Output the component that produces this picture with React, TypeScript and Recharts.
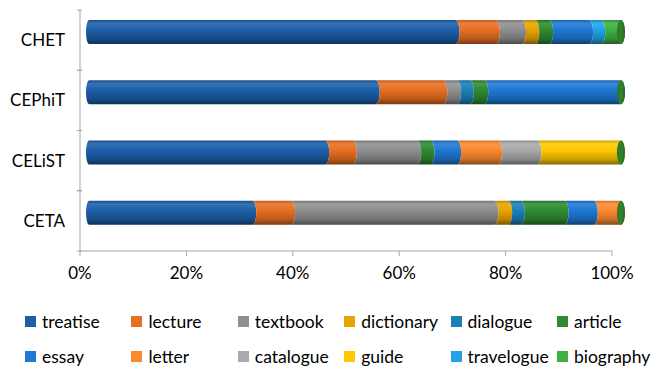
import React from "react";
import { Bar, BarChart, XAxis, YAxis } from "recharts";

// Text-type shares (percent) per corpus
const corpora = ["CHET", "CEPhiT", "CELiST", "CETA"];
const textTypes = [
  "treatise", "lecture", "textbook", "dictionary", "dialogue", "article",
  "essay", "letter", "catalogue", "guide", "travelogue", "biography",
];
const treatise = [68.9, 53.9, 44.4, 30.7];
const lecture = [7.6, 12.7, 5.2, 7.3];
const textbook = [4.9, 2.6, 12.1, 38.2];
const dictionary = [2.5, 0, 0, 2.6];
const dialogue = [0, 2.4, 0, 2.4];
const article = [2.6, 2.7, 2.5, 8.2];
const essay = [7.5, 25.7, 5.0, 5.5];
const letter = [0, 0, 7.7, 5.1];
const catalogue = [0, 0, 7.4, 0];
const guide = [0, 0, 15.7, 0];
const travelogue = [2.3, 0, 0, 0];
const biography = [3.7, 0, 0, 0];
const xTicks = [0, 0.2, 0.4, 0.6, 0.8, 1];

const seriesValues = [
  treatise, lecture, textbook, dictionary, dialogue, article,
  essay, letter, catalogue, guide, travelogue, biography,
];

const colors = [
  "#1c5fa9", "#e86f22", "#8f8f8f", "#e8a400", "#1c80b8", "#2e8b30",
  "#1f78d4", "#fb8a2e", "#aaaaaa", "#ffc800", "#21a3e6", "#41b041",
];

const data = corpora.map((name, i) => {
  const row: Record<string, string | number> = { name };
  textTypes.forEach((t, s) => (row[t] = seriesValues[s][i]));
  return row;
});

const FONT = "Lato, 'Open Sans', sans-serif";
const AXIS = "#a6a6a6";
// 3D depth shift of the cylinders relative to the axes
const DX = 9;
const DY = -8;
const RX = 4;

function tone(hex: string, f: number) {
  const n = parseInt(hex.slice(1), 16);
  const ch = [(n >> 16) & 255, (n >> 8) & 255, n & 255].map((c) =>
    Math.round(f >= 1 ? c + (255 - c) * (f - 1) : c * f)
  );
  return `rgb(${ch.join(",")})`;
}

function makeShape(si: number) {
  return (props: any) => {
    const { x, y, width, height, payload } = props;
    if (!width || width <= 0.01) return <g />;
    const vals = textTypes.map((t) => Number(payload[t]) || 0);
    const before = vals.slice(0, si).reduce((a, b) => a + b, 0);
    const after = vals.slice(si + 1).reduce((a, b) => a + b, 0);
    const x0 = x + DX;
    const y0 = y + DY;
    const x1 = x0 + width;
    const ry = height / 2;
    const leftEdge =
      before === 0
        ? `A 3 ${ry} 0 0 1 ${x0} ${y0}`
        : `A ${RX} ${ry} 0 0 0 ${x0} ${y0}`;
    const d = `M ${x0} ${y0} L ${x1} ${y0} A ${RX} ${ry} 0 0 1 ${x1} ${y0 + height} L ${x0} ${y0 + height} ${leftEdge} Z`;
    return (
      <g>
        <path d={d} fill={`url(#cyl${si})`} />
        {after === 0 && (
          <ellipse cx={x1} cy={y0 + ry} rx={RX} ry={ry} fill="url(#cap)" />
        )}
      </g>
    );
  };
}

function CategoryTick(props: any) {
  const { x, y, payload } = props;
  const half = payload.offset ?? 30;
  return (
    <g>
      <line x1={x + 5} x2={x + 10} y1={y - half} y2={y - half} stroke={AXIS} />
      <line x1={x + 5} x2={x + 10} y1={y + half} y2={y + half} stroke={AXIS} />
      <text x={x - 7} y={y} dy="0.35em" textAnchor="end" fontSize={17} fill="#000" fontFamily={FONT}>
        {payload.value}
      </text>
    </g>
  );
}

function LegendBlock() {
  return (
    <div
      style={{
        position: "absolute",
        left: 25,
        top: 311,
        display: "grid",
        gridTemplateColumns: "repeat(6, 106.4px)",
        rowGap: 14,
        fontFamily: FONT,
        fontSize: 17.5,
        color: "#000",
        lineHeight: "21px",
      }}
    >
      {textTypes.map((t, i) => (
        <div key={t} style={{ display: "flex", alignItems: "center", whiteSpace: "nowrap" }}>
          <span style={{ width: 11, height: 11, background: colors[i], marginRight: 6, flex: "none" }} />
          <span>{t}</span>
        </div>
      ))}
    </div>
  );
}

export default function App() {
  return (
    <div style={{ position: "absolute", left: 0, top: 0, width: 651, height: 367, background: "#fff" }}>
      <BarChart
        width={651}
        height={367}
        data={data}
        layout="vertical"
        stackOffset="expand"
        barSize={24}
        margin={{ top: 10, right: 39, bottom: 86, left: 0 }}
      >
        <defs>
          {colors.map((c, i) => (
            <linearGradient key={i} id={`cyl${i}`} x1="0" y1="0" x2="0" y2="1">
              <stop offset="0" stopColor={tone(c, 0.82)} />
              <stop offset="0.14" stopColor={tone(c, 1.12)} />
              <stop offset="0.4" stopColor={c} />
              <stop offset="0.78" stopColor={tone(c, 0.8)} />
              <stop offset="1" stopColor={tone(c, 0.52)} />
            </linearGradient>
          ))}
          <linearGradient id="cap" x1="0" y1="0" x2="1" y2="0">
            <stop offset="0" stopColor="#2a7426" />
            <stop offset="0.5" stopColor="#30852d" />
            <stop offset="1" stopColor="#276a24" />
          </linearGradient>
        </defs>
        <XAxis
          type="number"
          domain={[0, 1]}
          ticks={xTicks}
          tickFormatter={(v: number) => `${Math.round(v * 100)}%`}
          stroke={AXIS}
          tickSize={5}
          tickMargin={11}
          tick={{ fontSize: 17, fill: "#000", fontFamily: FONT }}
          height={30}
        />
        <YAxis
          type="category"
          dataKey="name"
          width={80}
          stroke={AXIS}
          tickLine={false}
          tick={<CategoryTick />}
        />
        {textTypes.map((t, i) => (
          <Bar
            key={t}
            dataKey={t}
            stackId="a"
            fill={colors[i]}
            shape={makeShape(i)}
            isAnimationActive={false}
          />
        ))}
      </BarChart>
      <LegendBlock />
    </div>
  );
}
